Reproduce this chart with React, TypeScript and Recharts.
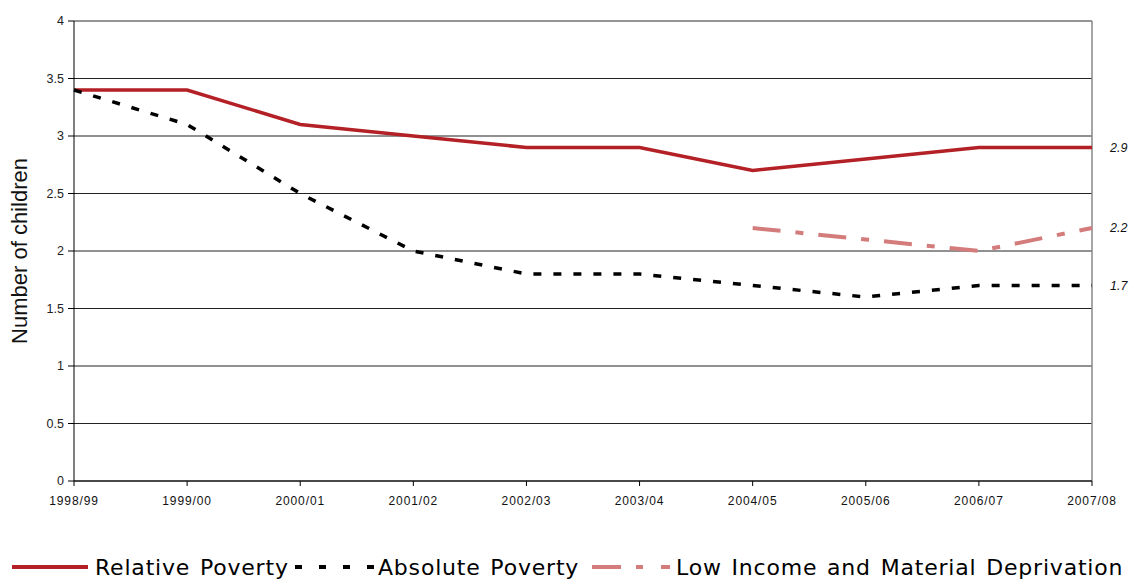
import { LineChart, Line, XAxis, YAxis, CartesianGrid, ReferenceLine } from 'recharts';

const years = ['1998/99', '1999/00', '2000/01', '2001/02', '2002/03', '2003/04', '2004/05', '2005/06', '2006/07', '2007/08'];
const relative = [3.4, 3.4, 3.1, 3.0, 2.9, 2.9, 2.7, 2.8, 2.9, 2.9];
const absolute = [3.4, 3.1, 2.5, 2.0, 1.8, 1.8, 1.7, 1.6, 1.7, 1.7];
const lowIncome = [null, null, null, null, null, null, 2.2, 2.1, 2.0, 2.2];
const yTicks = [0, 0.5, 1, 1.5, 2, 2.5, 3, 3.5, 4];

const data = years.map((y, i) => ({ year: y, relative: relative[i], absolute: absolute[i], lowIncome: lowIncome[i] }));

const RED = '#b32025';
const PINK = '#d47b7b';
const FONT = 'Liberation Sans, Arial, sans-serif';

const endLabel = (props: any) => {
  const { x, y, value, index } = props;
  if (index !== years.length - 1 || value == null) return null;
  return (
    <text x={x + 18} y={y + 4} fontSize={12.5} fontStyle="italic" fill="#111" fontFamily={FONT}>
      {value.toFixed(1)}
    </text>
  );
};

// legend: sample line then text
const legendItems = [
  { label: 'Relative Poverty', color: RED, dash: undefined as string | undefined, x: 12, w: 76, textX: 95 },
  { label: 'Absolute Poverty', color: '#000', dash: '7 17', x: 295, w: 80, textX: 378 },
  { label: 'Low Income and Material Deprivation', color: PINK, dash: '29 15 7 18 9', x: 592, w: 80, textX: 676 },
];

export default function App() {
  return (
    <div style={{ position: 'absolute', left: 0, top: 0, width: 1133, height: 579, background: '#fff' }}>
      <LineChart width={1133} height={520} data={data} margin={{ top: 21, right: 41, left: 29, bottom: 0 }}>
        <CartesianGrid vertical={false} stroke="#222" strokeWidth={1} />
        <XAxis
          dataKey="year"
          tick={{ fontSize: 12, fill: '#111', fontFamily: FONT, letterSpacing: 0.9 }}
          tickSize={5}
          tickMargin={10}
          stroke="#000"
          height={39}
        />
        <YAxis
          domain={[0, 4]}
          ticks={yTicks}
          tick={{ fontSize: 12.5, fill: '#222', fontFamily: FONT }}
          tickSize={6}
          tickMargin={4}
          stroke="#000"
          width={45}
          label={{
            value: 'Number of children',
            angle: -90,
            position: 'insideLeft',
            offset: -10,
            style: { fontSize: 22, fill: '#111', fontFamily: FONT, textAnchor: 'middle' },
          }}
        />
        <ReferenceLine y={4} stroke="#999" />
        <ReferenceLine x="2007/08" stroke="#888" strokeWidth={1.5} />
        <Line dataKey="relative" stroke={RED} strokeWidth={3.5} dot={false} isAnimationActive={false} label={endLabel} type="linear" />
        <Line dataKey="absolute" stroke="#000" strokeWidth={3.5} strokeDasharray="8 12" dot={false} isAnimationActive={false} label={endLabel} type="linear" />
        <Line dataKey="lowIncome" stroke={PINK} strokeWidth={4} strokeDasharray="28 15 8 15" dot={false} isAnimationActive={false} label={endLabel} type="linear" connectNulls={false} />
      </LineChart>
      <svg width={1133} height={40} style={{ position: 'absolute', left: 0, top: 548 }}>
        {legendItems.map((it) => (
          <g key={it.label}>
            <line x1={it.x} y1={19} x2={it.x + it.w} y2={19} stroke={it.color} strokeWidth={4} strokeDasharray={it.dash} />
            <text x={it.textX} y={27} fontSize={22} fontFamily="DejaVu Sans, sans-serif" letterSpacing={0.8} wordSpacing={2} fill="#000">
              {it.label}
            </text>
          </g>
        ))}
      </svg>
    </div>
  );
}
